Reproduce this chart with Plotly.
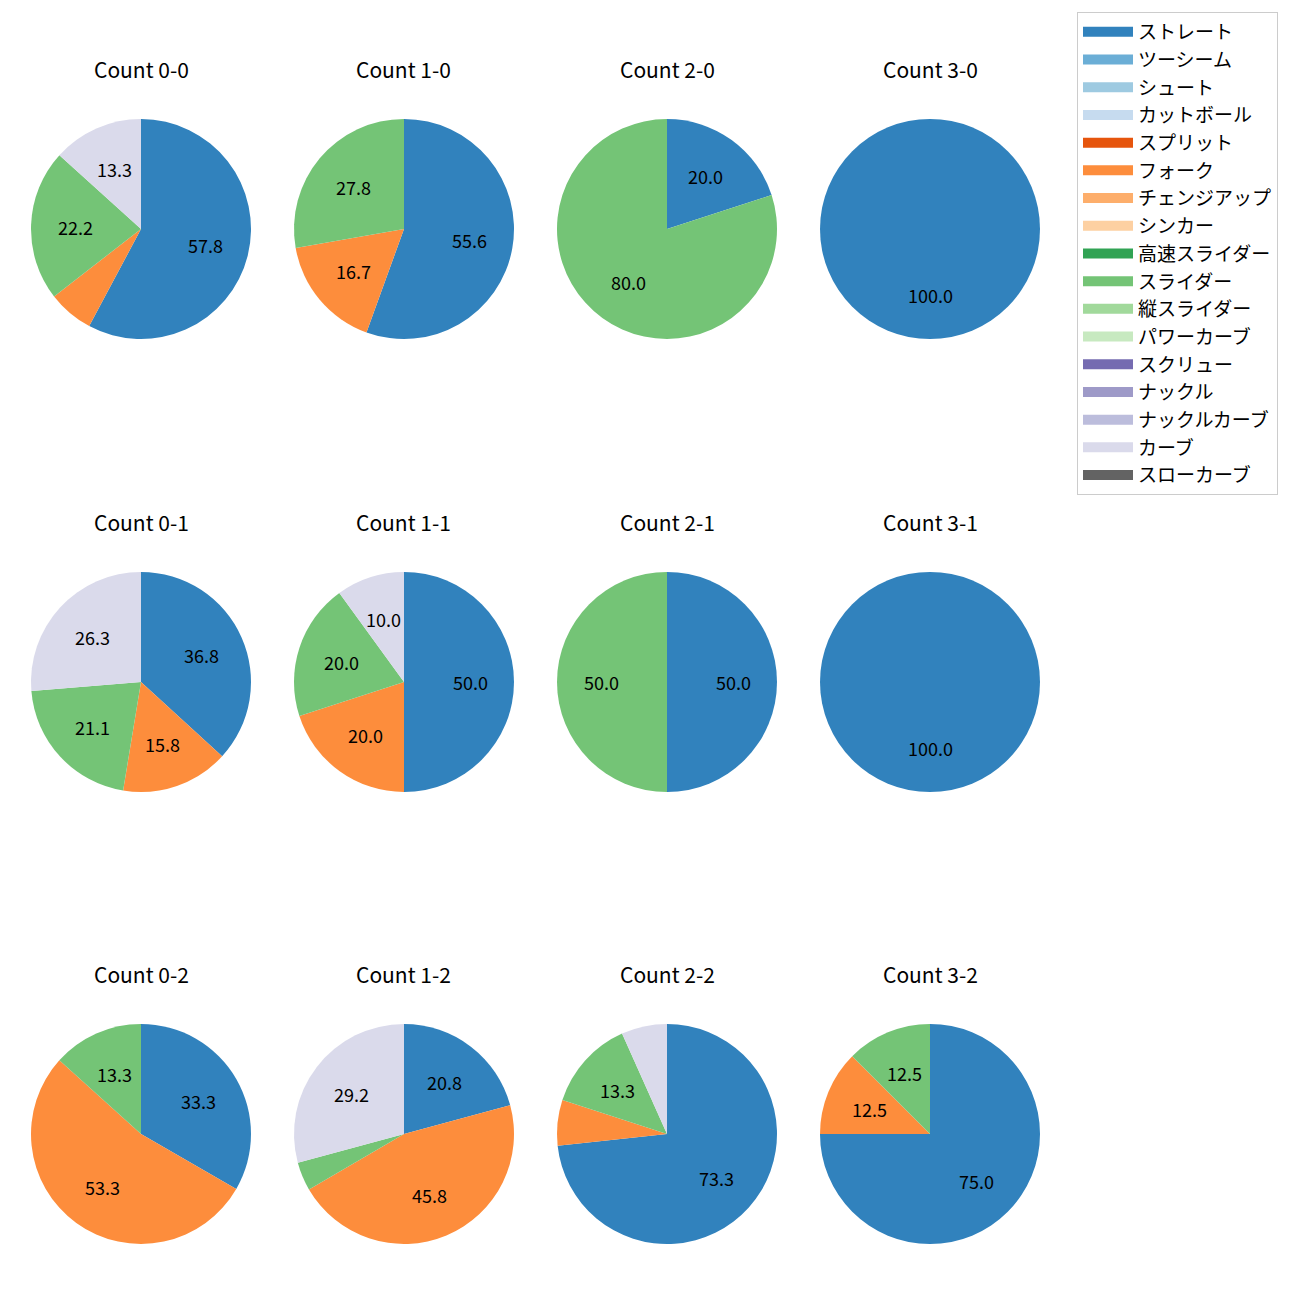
import math
import plotly.graph_objects as go

# ---- data ----
pitch_types = ["ストレート", "ツーシーム", "シュート", "カットボール", "スプリット", "フォーク",
               "チェンジアップ", "シンカー", "高速スライダー", "スライダー", "縦スライダー",
               "パワーカーブ", "スクリュー", "ナックル", "ナックルカーブ", "カーブ", "スローカーブ"]
pitch_colors = ["#3182bd", "#6baed6", "#9ecae1", "#c6dbef", "#e6550d", "#fd8d3c",
                "#fdae6b", "#fdd0a2", "#31a354", "#74c476", "#a1d99b", "#c7e9c0",
                "#756bb1", "#9e9ac8", "#bcbddc", "#dadaeb", "#636363"]

used_pitches = ["ストレート", "フォーク", "スライダー", "カーブ"]
counts = ["0-0", "1-0", "2-0", "3-0",
          "0-1", "1-1", "2-1", "3-1",
          "0-2", "1-2", "2-2", "3-2"]
count_0_0 = [57.8, 6.7, 22.2, 13.3]
count_1_0 = [55.6, 16.7, 27.8, 0.0]
count_2_0 = [20.0, 0.0, 80.0, 0.0]
count_3_0 = [100.0, 0.0, 0.0, 0.0]
count_0_1 = [36.8, 15.8, 21.1, 26.3]
count_1_1 = [50.0, 20.0, 20.0, 10.0]
count_2_1 = [50.0, 0.0, 50.0, 0.0]
count_3_1 = [100.0, 0.0, 0.0, 0.0]
count_0_2 = [33.3, 53.3, 13.3, 0.0]
count_1_2 = [20.8, 45.8, 4.2, 29.2]
count_2_2 = [73.3, 6.7, 13.3, 6.7]
count_3_2 = [75.0, 12.5, 12.5, 0.0]
count_values = [count_0_0, count_1_0, count_2_0, count_3_0,
                count_0_1, count_1_1, count_2_1, count_3_1,
                count_0_2, count_1_2, count_2_2, count_3_2]
label_threshold = 10.0

# ---- layout constants (pixels) ----
W = H = 1300
col_cx = [141, 404, 667, 930]
row_cy = [229, 682, 1134]
R = 110
title_offset = 160
FONT = "Noto Sans CJK JP"

color_map = dict(zip(pitch_types, pitch_colors))

fig = go.Figure()
annotations = []

for i, (cnt, vals) in enumerate(zip(counts, count_values)):
    r, c = divmod(i, 4)
    cx, cy = col_cx[c], row_cy[r]
    fig.add_trace(go.Pie(
        labels=used_pitches, values=vals, sort=False, direction="clockwise", rotation=0,
        marker=dict(colors=[color_map[p] for p in used_pitches], line=dict(width=0)),
        textinfo="none", hoverinfo="label+percent", showlegend=False,
        domain=dict(x=[(cx - R) / W, (cx + R) / W], y=[1 - (cy + R) / H, 1 - (cy - R) / H]),
    ))
    annotations.append(dict(
        x=cx / W, y=1 - (cy - title_offset) / H, xref="paper", yref="paper",
        text=f"Count {cnt}", showarrow=False, font=dict(size=21, color="#000", family=FONT),
        xanchor="center", yanchor="middle"))
    total = sum(vals)
    cum = 0.0
    for v in vals:
        if v > 0 and v >= label_threshold:
            mid = (cum + v / 2) / total * 2 * math.pi
            px = cx + 0.6 * R * math.sin(mid)
            py = cy - 0.6 * R * math.cos(mid)
            annotations.append(dict(
                x=px / W, y=1 - py / H, xref="paper", yref="paper", text=f"{v:.1f}",
                showarrow=False, font=dict(size=18, color="#000", family=FONT),
                xanchor="center", yanchor="middle"))
        cum += v

# legend entries
for i, (p, col) in enumerate(zip(pitch_types, pitch_colors)):
    fig.add_trace(go.Scatter(x=[None], y=[None], mode="lines", name=p,
                             line=dict(color=col, width=12), legendgroup=f"g{i}",
                             showlegend=True))

fig.update_layout(
    width=W, height=H, margin=dict(l=0, r=0, t=0, b=0),
    paper_bgcolor="white", plot_bgcolor="white",
    font=dict(family=FONT),
    xaxis=dict(visible=False), yaxis=dict(visible=False),
    annotations=annotations,
    legend=dict(x=1077 / W, y=1 - 12 / H, xanchor="left", yanchor="top",
                bordercolor="#cccccc", borderwidth=1, bgcolor="white",
                font=dict(size=19, color="#000", family=FONT),
                tracegroupgap=0, itemwidth=50),
)

fig.write_html("out.html")
